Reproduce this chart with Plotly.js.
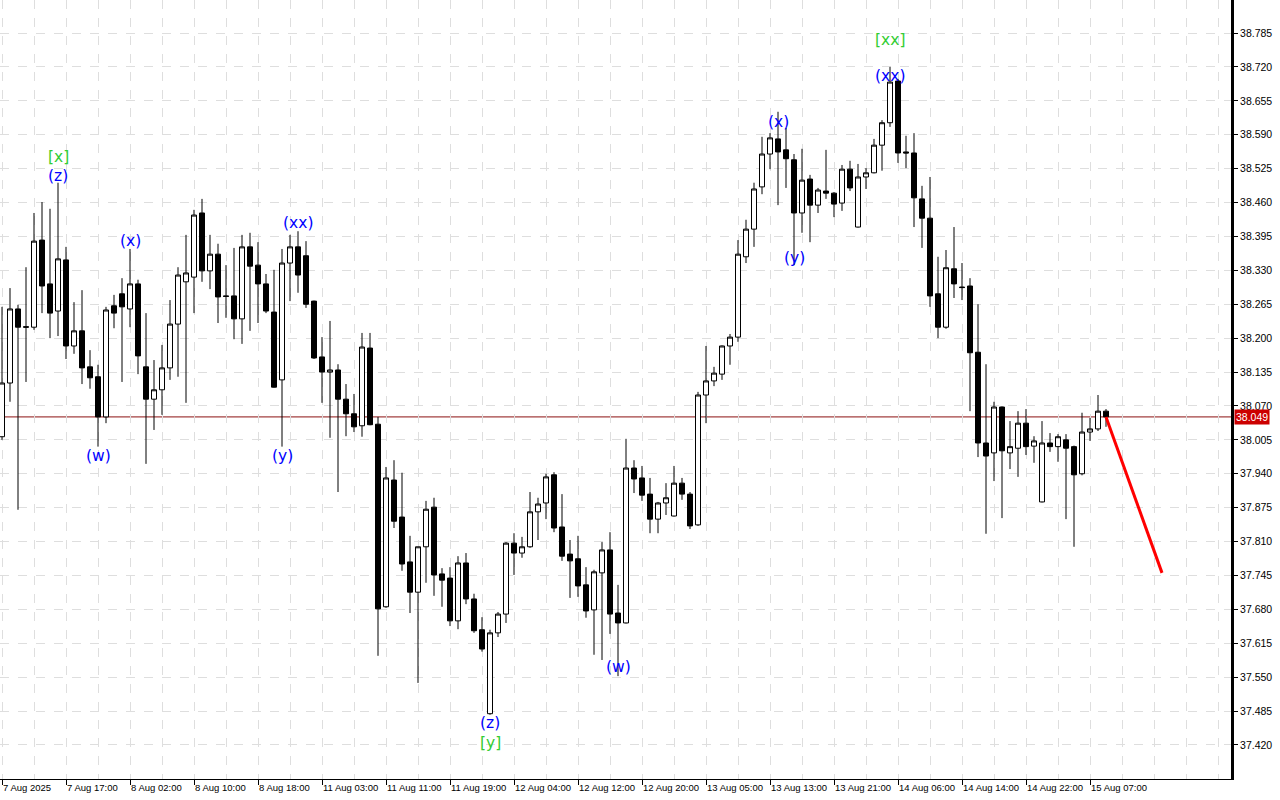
<!DOCTYPE html>
<html>
<head>
<meta charset="utf-8">
<script src="https://cdn.plot.ly/plotly-3.0.1.min.js"></script>
<style>
html,body{margin:0;padding:0;background:#fff;}
#chart{width:1280px;height:800px;}
</style>
</head>
<body>
<div id="chart"></div>
<script>
// ---- Hourly bars (index = bar number, 7 Aug 2025 09:00 .. 15 Aug 2025 09:00) ----
const openP = [
38.011,38.114,38.256,38.222,38.221,38.388,38.304,38.252,38.350,38.185,
38.214,38.145,38.126,38.049,38.262,38.285,38.256,38.304,38.145,38.083,
38.101,38.143,38.227,38.308,38.317,38.440,38.329,38.361,38.281,38.281,
38.237,38.375,38.340,38.304,38.250,38.120,38.344,38.375,38.358,38.271,
38.164,38.135,38.139,38.083,38.055,38.032,38.181,38.035,37.685,37.928,
37.857,37.771,37.713,37.800,37.876,37.748,37.740,37.658,37.769,37.700,
37.641,37.480,37.635,37.671,37.807,37.788,37.800,37.867,37.884,37.938,
37.838,37.786,37.777,37.727,37.679,37.750,37.794,37.673,37.654,37.951,
37.932,37.901,37.853,37.884,37.859,37.922,37.901,37.842,38.091,38.118,
38.131,38.185,38.202,38.356,38.409,38.490,38.553,38.582,38.561,38.542,
38.440,38.505,38.455,38.482,38.478,38.459,38.524,38.413,38.509,38.517,
38.570,38.613,38.693,38.557,38.555,38.467,38.430,38.285,38.221,38.333,
38.298,38.300,38.173,37.999,37.980,38.068,37.980,37.989,38.037,37.993,
37.886,37.999,37.992,38.005,37.992,37.940,38.020,38.026,38.060
];
const highP = [
38.260,38.296,38.264,38.336,38.440,38.461,38.448,38.498,38.375,38.269,
38.292,38.177,38.149,38.260,38.283,38.315,38.371,38.312,38.248,38.158,
38.187,38.273,38.336,38.398,38.446,38.467,38.398,38.381,38.340,38.373,
38.398,38.402,38.384,38.323,38.331,38.371,38.398,38.405,38.386,38.272,
38.202,38.233,38.150,38.112,38.093,38.210,38.210,38.049,37.953,37.966,
37.942,37.821,37.800,37.888,37.894,37.759,37.761,37.782,37.788,37.710,
37.665,37.641,37.675,37.809,37.826,37.819,37.905,37.894,37.940,37.943,
37.901,37.813,37.821,37.761,37.756,37.809,37.828,37.727,38.007,37.966,
37.955,37.932,37.886,37.922,37.955,37.932,37.905,38.097,38.185,38.145,
38.186,38.208,38.388,38.427,38.498,38.586,38.593,38.634,38.603,38.553,
38.563,38.513,38.488,38.561,38.480,38.532,38.540,38.534,38.526,38.582,
38.618,38.720,38.697,38.588,38.593,38.492,38.509,38.356,38.369,38.413,
38.344,38.315,38.265,38.150,38.078,38.069,38.041,38.060,38.064,38.012,
38.041,38.018,38.016,38.016,37.994,38.057,38.047,38.091,38.064
];
const lowP = [
38.005,38.078,37.871,38.116,38.216,38.248,38.200,38.204,38.160,38.170,
38.112,38.103,37.992,38.037,38.219,38.116,38.221,38.131,37.959,38.024,
38.053,38.120,38.126,38.076,38.248,38.308,38.294,38.229,38.239,38.198,
38.189,38.214,38.229,38.248,38.105,37.992,38.271,38.287,38.258,38.160,
38.076,38.009,37.905,38.012,38.020,38.011,38.033,37.591,37.683,37.836,
37.754,37.673,37.539,37.731,37.706,37.685,37.648,37.642,37.690,37.635,
37.599,37.478,37.627,37.654,37.746,37.779,37.798,37.813,37.853,37.828,
37.773,37.702,37.704,37.664,37.593,37.583,37.633,37.552,37.653,37.903,
37.888,37.826,37.826,37.861,37.858,37.890,37.834,37.840,38.037,38.108,
38.120,38.149,38.193,38.344,38.375,38.476,38.524,38.455,38.488,38.340,
38.402,38.384,38.440,38.467,38.432,38.444,38.482,38.412,38.486,38.516,
38.521,38.605,38.536,38.526,38.413,38.373,38.260,38.200,38.218,38.277,
38.273,38.060,37.972,37.825,37.926,37.855,37.949,37.934,37.976,37.961,
37.885,37.982,37.963,37.853,37.800,37.937,38.003,38.022,38.030
];
const closeP = [
38.114,38.256,38.221,38.221,38.386,38.300,38.248,38.352,38.185,38.214,
38.143,38.124,38.049,38.254,38.248,38.260,38.304,38.166,38.083,38.101,
38.143,38.227,38.321,38.325,38.436,38.329,38.361,38.279,38.280,38.237,
38.375,38.338,38.304,38.252,38.106,38.344,38.375,38.321,38.265,38.162,
38.135,38.139,38.083,38.055,38.030,38.183,38.034,37.681,37.932,37.849,
37.767,37.713,37.800,37.872,37.746,37.736,37.658,37.769,37.700,37.639,
37.604,37.635,37.671,37.807,37.788,37.800,37.867,37.882,37.934,37.836,
37.782,37.773,37.725,37.677,37.752,37.794,37.671,37.654,37.951,37.930,
37.899,37.853,37.884,37.894,37.922,37.901,37.840,38.091,38.118,38.133,
38.185,38.202,38.361,38.409,38.486,38.553,38.584,38.557,38.544,38.440,
38.503,38.455,38.484,38.478,38.457,38.524,38.488,38.509,38.517,38.570,
38.613,38.691,38.555,38.555,38.469,38.430,38.281,38.221,38.335,38.304,
38.297,38.172,37.999,37.974,38.068,37.984,37.992,38.037,37.992,38.003,
37.999,37.992,38.011,37.989,37.938,38.020,38.026,38.060,38.049
];

const xTickLabels = ["7 Aug 2025","7 Aug 17:00","8 Aug 02:00","8 Aug 10:00","8 Aug 18:00",
  "11 Aug 03:00","11 Aug 11:00","11 Aug 19:00","12 Aug 04:00","12 Aug 12:00","12 Aug 20:00",
  "13 Aug 05:00","13 Aug 13:00","13 Aug 21:00","14 Aug 06:00","14 Aug 14:00","14 Aug 22:00","15 Aug 07:00"];
const xTickBars = [0,8,16,24,32,40,48,56,64,72,80,88,96,104,112,120,128,136];
const yTickValues = [37.420,37.485,37.550,37.615,37.680,37.745,37.810,37.875,37.940,38.005,
  38.070,38.135,38.200,38.265,38.330,38.395,38.460,38.525,38.590,38.655,38.720,38.785];

const currentPrice = 38.049;
const forecastBars = [138,145];
const forecastPrices = [38.049,37.750];

const waveText  = ['[x]','(z)','(w)','(x)','(y)','(xx)','(z)','[y]','(w)','(x)','(y)','[xx]','(xx)'];
const waveBar   = [7,7,12,16,35,37,61,61,77,97,99,111,111];
const wavePrice = [38.547,38.511,37.974,38.386,37.974,38.421,37.462,37.424,37.570,38.614,38.354,38.772,38.703];

// ---- build ----
const barIndex = openP.map((_, i) => i);

const candle = {
  type: 'candlestick',
  x: barIndex, open: openP, high: highP, low: lowP, close: closeP,
  increasing: {line: {color: '#000000', width: 1}, fillcolor: '#ffffff'},
  decreasing: {line: {color: '#000000', width: 1}, fillcolor: '#000000'},
  whiskerwidth: 0,
  hoverinfo: 'skip',
  showlegend: false
};
const forecast = {
  type: 'scatter', mode: 'lines',
  x: forecastBars, y: forecastPrices,
  line: {color: '#ff0000', width: 3},
  hoverinfo: 'skip', showlegend: false
};

const gridCol = '#dedede';
const annotations = waveText.map((t, k) => ({
  x: waveBar[k], y: wavePrice[k], xref: 'x', yref: 'y',
  text: t, showarrow: false, xanchor: 'center', yanchor: 'middle',
  font: {family: 'DejaVu Sans, sans-serif', size: 15.5,
         color: t.charAt(0) === '[' ? '#32cd32' : '#0000ff'}
}));
annotations.push({
  xref: 'paper', x: 1, xanchor: 'left', xshift: 3,
  yref: 'y', y: currentPrice, yanchor: 'middle',
  text: currentPrice.toFixed(3), showarrow: false,
  bgcolor: '#cc0000', borderpad: 1,
  font: {family: 'Liberation Sans, Arial, sans-serif', size: 10.5, color: '#ffffff'}
});

const layout = {
  width: 1280, height: 800,
  margin: {l: 0, r: 49, t: 0, b: 21, pad: 0},
  paper_bgcolor: '#ffffff', plot_bgcolor: '#ffffff',
  showlegend: false,
  boxgap: 0.375, boxgroupgap: 0,
  xaxis: {
    range: [-0.25, 153.625],
    tickmode: 'array', tickvals: xTickBars, ticktext: xTickLabels,
    tickangle: 0,
    ticks: 'outside', ticklen: 5, tickcolor: '#000000', tickwidth: 1,
    ticklabelposition: 'outside right',
    showline: true, linecolor: '#000000', linewidth: 1,
    showgrid: true, gridcolor: gridCol, griddash: 'dash', gridwidth: 1,
    minor: {dtick: 4, tick0: 0, showgrid: true, gridcolor: gridCol, griddash: 'dash', gridwidth: 1, ticks: ''},
    zeroline: false,
    rangeslider: {visible: false},
    tickfont: {family: 'Liberation Sans, Arial, sans-serif', size: 9.5, color: '#000000'},
    fixedrange: true
  },
  yaxis: {
    side: 'right',
    range: [37.3548, 38.8483],
    tickmode: 'array', tickvals: yTickValues,
    ticktext: yTickValues.map(v => v.toFixed(3)),
    ticks: 'outside', ticklen: 4, tickcolor: '#000000', tickwidth: 1,
    showline: true, linecolor: '#000000', linewidth: 3,
    showgrid: true, gridcolor: gridCol, griddash: 'dash', gridwidth: 1,
    zeroline: false,
    tickfont: {family: 'Liberation Sans, Arial, sans-serif', size: 10.5, color: '#000000'},
    fixedrange: true
  },
  shapes: [{
    type: 'line', xref: 'paper', x0: 0, x1: 1, yref: 'y', y0: currentPrice, y1: currentPrice,
    line: {color: '#8b1010', width: 1}, layer: 'below'
  }],
  annotations: annotations
};

Plotly.newPlot('chart', [candle, forecast], layout, {displayModeBar: false, staticPlot: true});
</script>
</body>
</html>
